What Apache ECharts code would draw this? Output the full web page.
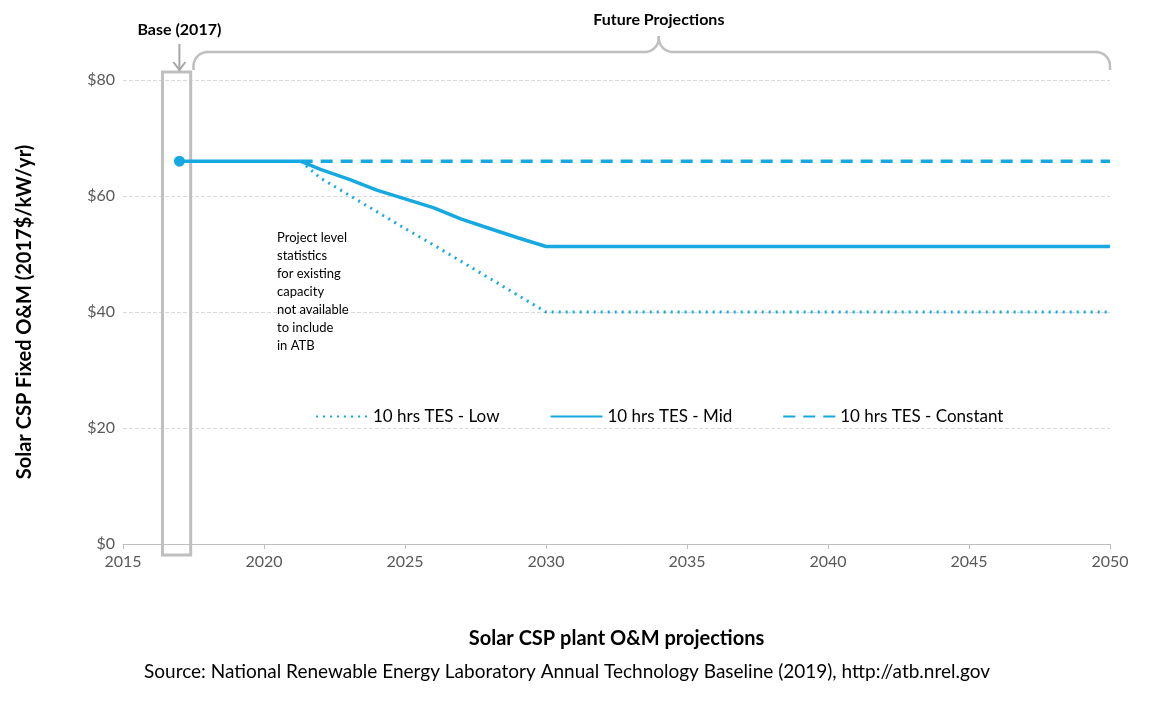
<!DOCTYPE html>
<html><head><meta charset="utf-8">
<script src="https://cdn.jsdelivr.net/npm/echarts@6/dist/echarts.min.js"></script>
<style>html,body{margin:0;padding:0;background:#fff}#c{width:1149px;height:722px}</style>
</head><body><div id="c"></div>
<script>
const years = [2017,2018,2019,2020,2021,2022,2023,2024,2025,2026,2027,2028,2029,2030,2035,2040,2045,2050];
const shared = [66,66,66,66,66];
const lowVals = [63.1,60.2,57.3,54.4,51.6,48.7,45.8,42.9,40,40,40,40,40];
const midVals = [64.6,62.9,61.0,59.5,58.0,56.0,54.4,52.8,51.3,51.3,51.3,51.3,51.3];
const constVals = [66,66,66,66,66,66,66,66,66,66,66,66,66];
const yTicks = ['$0','$20','$40','$60','$80'];
const color = '#16A9E1';
const font = 'Lato';
function pairs(vals){
  const out=[[2021.3,66]];
  vals.forEach((v,i)=>out.push([years[5+i],v]));
  return out;
}
const chart = echarts.init(document.getElementById('c'));
const opt = {
  animation:false,
  textStyle:{fontFamily:font},
  grid:{left:123,right:39,top:80,bottom:178},
  xAxis:{type:'value',min:2015,max:2050,interval:5,
    axisLine:{lineStyle:{color:'#bfbfbf'}},axisTick:{show:true,lineStyle:{color:'#bfbfbf'}},
    axisLabel:{color:'#595959',fontSize:16,margin:10,formatter:v=>String(v)},splitLine:{show:false},
    name:'Solar CSP plant O&M projections',nameLocation:'middle',nameGap:85,
    nameTextStyle:{fontSize:20,fontWeight:'bold',color:'#000'}},
  yAxis:{type:'value',min:0,max:80,interval:20,
    axisLine:{show:false},axisTick:{show:false},
    axisLabel:{color:'#595959',fontSize:16,formatter:v=>yTicks[v/20]},
    splitLine:{lineStyle:{color:'#d9d9d9',type:'dashed'}},
    name:'Solar CSP Fixed O&M (2017$/kW/yr)',nameLocation:'middle',nameGap:88,
    nameTextStyle:{fontSize:20,fontWeight:'bold',color:'#000'}},
  legend:{top:403,left:310,itemGap:50,itemWidth:52,textStyle:{fontSize:17,color:'#000'},
    itemStyle:{opacity:0},
    data:['10 hrs TES - Low','10 hrs TES - Mid','10 hrs TES - Constant']},
  series:[
    {name:'10 hrs TES - Low',type:'line',symbol:'none',data:pairs(lowVals),lineStyle:{color,width:3,type:[2,5]},itemStyle:{color}},
    {name:'10 hrs TES - Mid',type:'line',symbol:'none',data:pairs(midVals),lineStyle:{color,width:3.5},itemStyle:{color}},
    {name:'10 hrs TES - Constant',type:'line',symbol:'none',data:pairs(constVals),lineStyle:{color,width:3.5,type:[12,8]},itemStyle:{color}},
    {name:'base',type:'line',data:[[2017,66],[2018,66],[2019,66],[2020,66],[2021,66],[2021.3,66]],symbol:'none',lineStyle:{color,width:3.5},
      markPoint:{symbol:'circle',symbolSize:11,itemStyle:{color},label:{show:false},data:[{coord:[2017,66]}]}}
  ]
};
chart.setOption(opt);
const p=(x,y)=>chart.convertToPixel({gridIndex:0},[x,y]);
const a=p(2016.4,0), b=p(2017.4,0), bx=p(2017,80);
const l=p(2017.5,0)[0], r=p(2050,0)[0], m=p(2034,0)[0];
function arc(cx,cy,rad,a0,a1){const pts=[];for(let i=0;i<=8;i++){const t=a0+(a1-a0)*i/8;pts.push([cx+rad*Math.cos(t),cy+rad*Math.sin(t)]);}return pts;}
const R=14, P=Math.PI;
const brace=[].concat(
  [[l,70]], arc(l+R,52+R,R,P,1.5*P),
  [[m-R,52]], arc(m-R,52-R,R,0.5*P,0), [[m,36]]
);
const brace2=[].concat(
  [[m,36]], arc(m+R,52-R,R,P,0.5*P), [[r-R,52]], arc(r-R,52+R,R,1.5*P,2*P), [[r,70]]
);
const g=[
 {type:'rect',shape:{x:a[0],y:72,width:b[0]-a[0],height:483},style:{fill:'none',stroke:'#bfbfbf',lineWidth:3}},
 {type:'text',x:bx[0],y:30,style:{text:'Base (2017)',font:'bold 16px '+font,fill:'#000',align:'center',verticalAlign:'middle'}},
 {type:'line',shape:{x1:bx[0],y1:44,x2:bx[0],y2:70},style:{stroke:'#a6a6a6',lineWidth:2}},
 {type:'polyline',shape:{points:[[bx[0]-6,62],[bx[0],70],[bx[0]+6,62]]},style:{stroke:'#a6a6a6',lineWidth:2,fill:null}},
 {type:'polyline',shape:{points:brace},style:{stroke:'#bfbfbf',lineWidth:2.5,fill:null}},
 {type:'polyline',shape:{points:brace2},style:{stroke:'#bfbfbf',lineWidth:2.5,fill:null}},
 {type:'text',x:m,y:20,style:{text:'Future Projections',font:'bold 16px '+font,fill:'#000',align:'center',verticalAlign:'middle'}},
 {type:'text',x:277,y:229,style:{text:'Project level\nstatistics\nfor existing\ncapacity\nnot available\nto include\nin ATB',font:'13px '+font,lineHeight:18,fill:'#000'}},
 {type:'text',x:567,y:672,style:{text:'Source: National Renewable Energy Laboratory Annual Technology Baseline (2019), http://atb.nrel.gov',font:'19px '+font,fill:'#000',align:'center',verticalAlign:'middle'}}
];
chart.setOption({graphic:g});
</script></body></html>
